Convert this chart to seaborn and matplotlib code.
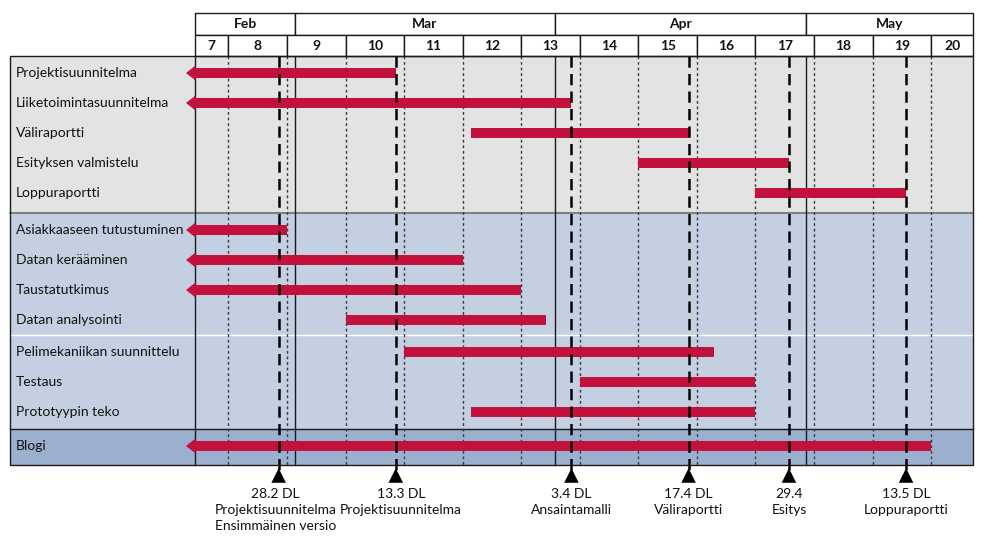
import datetime as dt
import numpy as np
import pandas as pd
import matplotlib
matplotlib.use("Agg")
import matplotlib.pyplot as plt
import matplotlib.dates as mdates
import matplotlib.transforms as mtransforms
from matplotlib.patches import Rectangle, Polygon
import seaborn as sns

# ---------------- data ----------------
tasks = ["Projektisuunnitelma", "Liiketoimintasuunnitelma", "Väliraportti",
         "Esityksen valmistelu", "Loppuraportti",
         "Asiakkaaseen tutustuminen", "Datan kerääminen", "Taustatutkimus",
         "Datan analysointi",
         "Pelimekaniikan suunnittelu", "Testaus", "Prototyypin teko",
         "Blogi"]
task_group = [0, 0, 0, 0, 0, 1, 1, 1, 1, 2, 2, 2, 3]
# None = task began before the visible period (drawn with an arrow)
task_start = [None, None, "2016-03-22", "2016-04-11", "2016-04-25",
              None, None, None, "2016-03-07",
              "2016-03-14", "2016-04-04", "2016-03-22",
              None]
task_end = ["2016-03-13", "2016-04-03", "2016-04-17", "2016-04-29", "2016-05-13",
            "2016-02-29", "2016-03-21", "2016-03-28", "2016-03-31",
            "2016-04-20", "2016-04-25", "2016-04-25",
            "2016-05-16"]

months = ["Feb", "Mar", "Apr", "May"]
month_starts = ["2016-02-01", "2016-03-01", "2016-04-01", "2016-05-01"]
week_numbers = [7, 8, 9, 10, 11, 12, 13, 14, 15, 16, 17, 18, 19, 20]
year = 2016

deadline_dates = ["2016-02-28", "2016-03-13", "2016-04-03",
                  "2016-04-17", "2016-04-29", "2016-05-13"]
deadline_labels = ["28.2 DL\nProjektisuunnitelma\nEnsimmäinen versio",
                   "13.3 DL\nProjektisuunnitelma",
                   "3.4 DL\nAnsaintamalli",
                   "17.4 DL\nVäliraportti",
                   "29.4\nEsitys",
                   "13.5 DL\nLoppuraportti"]

view_start = "2016-02-18"
view_end = "2016-05-21"

# ---------------- style / layout ----------------
sns.set_theme(style="white")
plt.rcParams["font.family"] = ["Lato", "DejaVu Sans"]

W, H = 984, 537
BAR_COLOR = "#c3113d"
BG_COLORS = ["#e3e3e3", "#c4cfe2", "#c4cfe2", "#9bafce"]
GROUP_TOP = [56, 213, 335, 429]
BODY_BOTTOM = 465
X_LEFT_PX, X_TL_PX, X_RIGHT_PX = 10, 195, 973
HDR_TOP, HDR_MID = 13, 35
LABEL_SHIFT_PX = [-3, 5, 0, 0, 0, 0]

d = lambda s: mdates.date2num(pd.Timestamp(s))
v0, v1 = d(view_start), d(view_end)
ppd = (X_RIGHT_PX - X_TL_PX) / (v1 - v0)  # px per day

fig = plt.figure(figsize=(W / 100, H / 100), dpi=100)
ax = fig.add_axes([0, 0, 1, 1])
bt = mtransforms.blended_transform_factory(ax.transAxes, ax.transData)

# row positions
row_y = []
counters = {}
for g in task_group:
    i = counters.get(g, 0)
    row_y.append(GROUP_TOP[g] + 17 + 30 * i)
    counters[g] = i + 1

# backgrounds
bounds = GROUP_TOP + [BODY_BOTTOM]
for g in range(4):
    ax.add_patch(Rectangle((X_LEFT_PX / W, bounds[g]), (X_RIGHT_PX - X_LEFT_PX) / W,
                           bounds[g + 1] - bounds[g], transform=bt,
                           facecolor=BG_COLORS[g], edgecolor="none", zorder=0))
# group separators
ax.plot([X_LEFT_PX / W, X_RIGHT_PX / W], [213, 213], transform=bt, color="#808080", lw=1.5, zorder=1)
ax.plot([X_LEFT_PX / W, X_RIGHT_PX / W], [335, 335], transform=bt, color="white", lw=1.0, zorder=1)
ax.plot([X_LEFT_PX / W, X_RIGHT_PX / W], [429, 429], transform=bt, color="#1a1a1a", lw=1.0, zorder=1)
# outer border of body
ax.add_patch(Rectangle((X_LEFT_PX / W, GROUP_TOP[0]), (X_RIGHT_PX - X_LEFT_PX) / W,
                       BODY_BOTTOM - GROUP_TOP[0], transform=bt, facecolor="none",
                       edgecolor="#1a1a1a", lw=1.0, zorder=6))

# vertical lines: timeline start, weeks, months
ax.plot([v0, v0], [GROUP_TOP[0], BODY_BOTTOM], color="#1a1a1a", lw=1.0, zorder=1)
week_starts = [d(dt.date.fromisocalendar(year, w, 1)) for w in week_numbers]
for ws in week_starts:
    if v0 < ws < v1:
        ax.plot([ws, ws], [GROUP_TOP[0], BODY_BOTTOM], color="#3a3a3a", lw=1.0,
                ls=(0, (2, 2)), zorder=1)
for ms in month_starts:
    m = d(ms)
    if v0 < m < v1:
        ax.plot([m, m], [GROUP_TOP[0], BODY_BOTTOM], color="#1a1a1a", lw=1.0, zorder=1)

# bars
dl = pd.DataFrame({"task": tasks, "y": row_y,
                   "start": [d(s) if s else v0 for s in task_start],
                   "end": [d(e) for e in task_end],
                   "arrow": [s is None for s in task_start]})
ax.barh(dl["y"], dl["end"] - dl["start"], left=dl["start"], height=9.5,
        color=BAR_COLOR, edgecolor="none", zorder=3)
for _, r in dl[dl["arrow"]].iterrows():
    tip = v0 - 9 / ppd
    base = v0 + 0.5 / ppd
    ax.add_patch(Polygon([(base, r.y - 7.5), (tip, r.y), (base, r.y + 7.5)],
                         closed=True, facecolor=BAR_COLOR, edgecolor="none",
                         zorder=3, clip_on=False))

# task labels
for t, y in zip(tasks, row_y):
    ax.text(16 / W, y, t, transform=bt, ha="left", va="center",
            fontsize=10, color="#111111", zorder=5)

# deadlines
dd = pd.DataFrame({"x": [d(x) for x in deadline_dates], "y": 475.5})
for x in dd["x"]:
    ax.plot([x, x], [GROUP_TOP[0], 470], color="black", lw=1.8,
            ls=(0, (4.5, 2.5)), zorder=4)
sns.scatterplot(data=dd, x="x", y="y", marker="^", s=110, color="black",
                edgecolor="none", ax=ax, zorder=5, legend=False)
for x, lab, sh in zip(dd["x"], deadline_labels, LABEL_SHIFT_PX):
    ax.text(x + sh / ppd, 487.5, lab, ha="center", va="top", fontsize=10,
            color="#111111", linespacing=1.45, zorder=5)

# header
for i, (mname, ms) in enumerate(zip(months, month_starts)):
    a = max(d(ms), v0)
    b = min(d(month_starts[i + 1]) if i + 1 < len(month_starts) else v1, v1)
    ax.add_patch(Rectangle((a, HDR_TOP), b - a, HDR_MID - HDR_TOP, facecolor="white",
                           edgecolor="#1a1a1a", lw=1.0, zorder=2))
    ax.text((a + b) / 2, (HDR_TOP + HDR_MID) / 2 + 0.5, mname, ha="center", va="center",
            fontsize=10, fontweight="bold", color="#111111", zorder=5)
for w, ws in zip(week_numbers, week_starts):
    a = max(ws, v0)
    b = min(ws + 7, v1)
    ax.add_patch(Rectangle((a, HDR_MID), b - a, GROUP_TOP[0] - HDR_MID, facecolor="white",
                           edgecolor="#1a1a1a", lw=1.0, zorder=2))
    ax.text((a + b) / 2, (HDR_MID + GROUP_TOP[0]) / 2 + 0.5, str(w), ha="center",
            va="center", fontsize=10, fontweight="bold", color="#111111", zorder=5)

ax.set_xlim(v0 - X_TL_PX / ppd, v0 + (W - X_TL_PX) / ppd)
ax.set_ylim(H, 0)
ax.axis("off")

fig.savefig("out.png", dpi=100, facecolor="white")
